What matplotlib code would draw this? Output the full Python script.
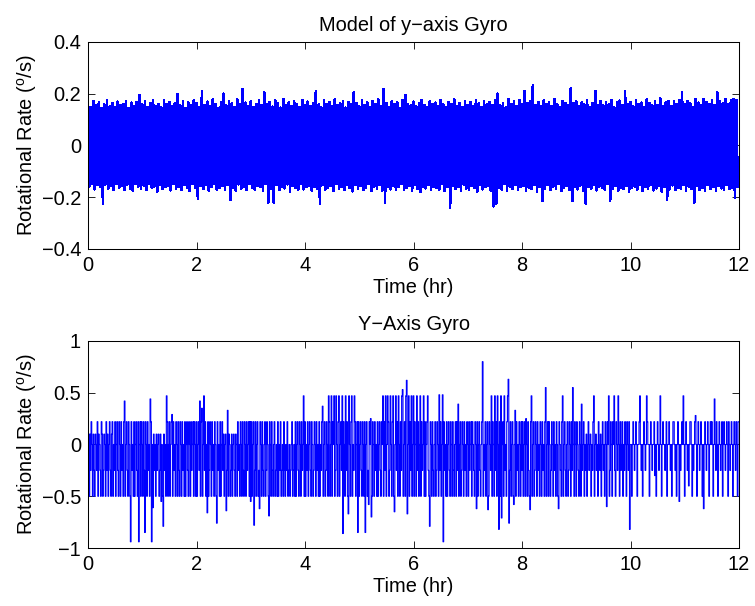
import numpy as np
import matplotlib
matplotlib.use("Agg")
import matplotlib.pyplot as plt
from matplotlib.ticker import FuncFormatter

plt.rcParams['font.family'] = ['Liberation Sans', 'DejaVu Sans']
plt.rcParams['mathtext.fontset'] = 'custom'
plt.rcParams['mathtext.rm'] = 'Liberation Sans'

# Model gyro: upper / lower noise peaks every 0.05 hr, in milli-deg/s
model_hi = [
    162, 148, 171, 155, 166, 143, 158, 174, 151, 163, 147, 169, 156, 160, 172, 145, 165, 153, 168, 195,
    158, 170, 149, 164, 176, 152, 161, 146, 173, 159, 167, 150, 162, 199, 155, 171, 144, 166, 157, 175,
    163, 148, 210, 156, 169, 151, 177, 160, 145, 168, 200, 154, 172, 162, 149, 179, 158, 218, 165, 152,
    170, 147, 161, 176, 155, 205, 159, 168, 150, 174, 163, 146, 180, 157, 166, 153, 171, 160, 148, 175,
    156, 169, 152, 164, 210, 158, 147, 173, 161, 167, 150, 177, 155, 163, 171, 146, 168, 159, 205, 162,
    151, 174, 157, 166, 148, 172, 160, 178, 153, 218, 164, 149, 170, 158, 167, 145, 175, 195, 161, 154,
    169, 150, 163, 176, 156, 147, 171, 160, 165, 152, 174, 158, 146, 168, 161, 177, 153, 164, 149, 172,
    157, 166, 150, 175, 162, 148, 170, 159, 167, 154, 173, 200, 155, 164, 147, 178, 160, 169, 152, 176,
    158, 210, 163, 171, 234, 156, 168, 150, 174, 161, 166, 153, 179, 159, 148, 172, 164, 157, 220, 162,
    170, 152, 166, 158, 175, 149, 163, 210, 157, 171, 154, 168, 160, 176, 147, 165, 173, 156, 210, 161,
    168, 151, 174, 159, 165, 148, 177, 162, 155, 170, 157, 181, 150, 166, 172, 153, 169, 160, 176, 205,
    158, 171, 163, 149, 178, 165, 154, 180, 167, 160, 175, 156, 205, 170, 162, 178, 158, 174, 180, 176,
]
model_lo = [
    -158, -147, -169, -152, -161, -226, -150, -166, -155, -172, -148, -163, -157, -170, -151, -165, -174, -149, -160, -167,
    -154, -171, -146, -163, -158, -177, -150, -168, -161, -155, -173, -147, -166, -159, -170, -152, -164, -175, -149, -162,
    -205, -157, -168, -151, -174, -160, -148, -171, -163, -156, -169, -153, -210, -162, -175, -150, -166, -158, -172, -147,
    -164, -170, -155, -161, -176, -149, -220, -167, -220, -153, -172, -159, -165, -150, -178, -157, -163, -171, -148, -169,
    -160, -154, -173, -158, -166, -226, -151, -170, -162, -156, -175, -148, -167, -159, -172, -153, -164, -177, -150, -168,
    -157, -171, -163, -149, -176, -160, -166, -152, -174, -220, -158, -169, -155, -172, -161, -148, -170, -164, -156, -173,
    -151, -167, -179, -159, -165, -153, -172, -158, -163, -170, -148, -176, -161, -240, -154, -168, -160, -174, -150, -166,
    -172, -157, -164, -178, -152, -169, -161, -155, -173, -235, -225, -163, -170, -149, -176, -158, -166, -153, -171, -160,
    -156, -174, -162, -168, -150, -177, -159, -215, -165, -153, -171, -160, -167, -148, -175, -163, -157, -170, -215, -161,
    -169, -154, -176, -225, -160, -167, -151, -173, -158, -164, -171, -149, -215, -166, -157, -174, -162, -168, -155, -177,
    -163, -158, -170, -152, -175, -161, -167, -150, -173, -165, -156, -178, -160, -210, -169, -154, -172, -162, -166, -151,
    -174, -159, -168, -220, -155, -171, -163, -176, -150, -167, -160, -173, -157, -165, -170, -153, -168, -162, -200, -158,
]

# Measured gyro output (quantised), 40 samples per half hour, in centi-deg/s
gyro_meas = [
    22, 10, -50, 10, -25, 22, 0, -50, 10, -25, -50, 10, 0, -25, 22, -50, 10, 0, -25, -50,
    22, 10, -50, -25, 10, 0, -50, 22, -25, 10, -50, 0, 22, -25, -50, 10, 22, -50, 0, -25,
    22, -50, 0, 22, -25, -50, 22, 0, -50, 22, -25, 0, -50, 22, 42, -50, 0, 22, -25, -50,
    22, 0, -50, -94, 22, -25, 0, -50, 22, -50, 0, 22, -25, -50, 22, -94, 0, 22, -50, 22,
    0, -50, 22, -25, -85, 22, 0, -50, 22, -25, 0, -50, 44, 22, -94, 0, -61, 10, -25, 0,
    -50, 10, -25, 0, 10, -50, -25, 10, -55, 0, -50, -79, 10, -25, 0, -50, 47, 22, -50, 0,
    22, -50, 0, 22, 29, -50, 22, -25, 0, -50, 22, 0, -50, 22, -25, -50, 22, 0, -50, 22,
    -25, 0, -50, 22, -50, 0, 22, -25, -50, 22, 0, -50, 22, -25, 0, 22, -50, 22, 0, -50,
    22, -50, 0, 22, -25, 42, -50, 22, 35, -50, 0, 47, -25, 22, -50, 0, -66, 22, -50, -25,
    22, 0, -50, 22, -25, 0, -50, 22, 0, -50, -76, 22, -25, 0, -50, 22, -50, 0, 22, -25,
    10, -50, 0, 10, -64, -25, 33, -50, 10, 0, -50, -25, 10, -50, 0, 10, -25, -50, 10, 0,
    -50, 22, -25, 0, -50, 22, 0, -50, 22, -25, -50, 22, 0, -50, 22, -25, 0, 22, -50, 22,
    -55, 22, -50, 0, 22, -78, -25, 22, -50, 0, 22, -50, -25, -62, 22, 0, -50, 22, -25, -50,
    0, 22, -50, -25, 22, 0, -50, -69, 22, 0, -50, 22, -25, -50, 0, 22, -50, -25, 0, -50,
    22, -50, 0, -25, 22, -50, -25, 0, -50, 22, -25, -50, 0, -25, 22, -50, -25, 0, -50, -25,
    0, 22, -50, -25, 0, -50, 22, -50, 0, 22, -25, -50, 22, 0, -50, 22, -25, 0, 47, -50,
    22, -50, 0, -25, 22, -50, 0, 22, -25, -50, 22, 0, -50, -25, 22, 0, -50, 22, -25, 0,
    -50, 22, -50, 0, -25, 22, 37, -50, 0, 22, -50, -25, 22, 0, -50, 47, 22, -50, 0, 47,
    -50, 22, 0, 47, -50, -25, 47, 0, -50, 22, 47, -50, 0, 22, -25, 47, -86, 22, 0, -50,
    47, -25, 22, -50, -67, 47, 0, -50, 22, 47, -50, 0, -25, 47, 22, -50, 0, 22, -85, 22,
    -50, 0, 22, -25, -50, 22, 0, -50, 22, -85, 0, 22, -50, -25, -58, 22, 0, 25, -70, -50,
    22, 0, -50, 22, -25, 0, -50, 22, -50, 0, 22, -25, -50, 22, 0, 47, -50, 22, -25, 47,
    -50, 0, 47, 22, -50, -25, 47, 0, -50, 22, 47, -50, -65, 0, 47, -25, 22, -50, 47, 0,
    -50, 22, -25, 47, 53, -50, 0, 22, -50, 47, 62, -67, 0, 47, -50, 22, -25, 47, -50, 0,
    47, -50, 22, 0, -50, 47, -25, 22, -50, 0, 47, -50, 22, -25, 0, 47, -50, 22, -50, 0,
    22, 47, -25, -50, -79, 22, 0, -50, 22, -25, -50, 0, 22, -50, -25, 22, 0, -50, 48, -25,
    22, -50, 0, 48, -94, 22, -25, 0, -50, 22, -50, 0, 22, -25, -50, 22, 0, -50, 22, -25,
    -50, 0, 22, -50, 22, -25, 39, -50, 0, 22, -50, -25, 22, 0, -50, 22, -25, 0, -50, 22,
    0, -50, 22, -25, 0, 22, -50, 22, 0, -25, -50, 22, 0, -62, 22, -50, 0, 22, -25, -50,
    0, 22, 80, -50, 0, -25, 22, -50, 0, 22, -63, -50, 22, 0, -25, 47, -50, 22, 0, -50,
    47, -25, 22, -50, 47, 0, -82, 22, -50, 47, -71, 0, 22, -50, 47, -25, 0, -50, 22, 47,
    63, -76, -25, 22, -50, 0, 22, -50, -58, 0, 33, -50, 22, -25, 0, -50, 22, 0, -50, 22,
    -25, 22, -50, 0, 22, -50, 25, 0, -50, 22, -25, -50, -63, 22, 47, -50, 0, 22, -50, -25,
    22, 0, -50, 22, -25, 0, -50, 22, 0, -50, 22, -25, 0, -50, 22, 55, -50, 0, 22, -50,
    22, 0, -50, -25, 22, 0, -50, 22, -25, 0, -50, 22, 0, -50, -62, 22, 0, -25, -50, 22,
    47, -50, 0, 22, -25, -50, 0, 22, -50, -25, 22, 0, -50, 22, -25, 55, 0, -50, 22, 0,
    -50, 22, 0, -25, -50, 22, 0, -50, 39, -25, 0, 22, -50, 0, -25, 10, -50, 0, 22, -25,
    0, 10, -50, 0, -25, 22, 47, -50, 0, 10, -25, 0, -50, 22, 0, -25, 10, -50, 0, 22,
    -25, 0, -50, 22, 0, -60, 22, 0, 47, -50, -25, 22, 0, -50, 22, 0, 47, -25, -50, 22,
    0, -25, 47, 0, -50, 22, -25, 0, 22, -50, 0, -25, 22, 0, -50, 22, 0, -25, 22, -82,
    0, 0, -50, 0, 22, 0, -25, 0, 22, 0, -50, 0, 0, 22, 47, 0, -25, 0, -50, 0,
    22, 0, -25, 0, 47, 22, 0, 0, -50, 0, 22, 0, -25, 0, 0, 22, -30, 0, -50, 0,
    22, 0, -25, 0, 47, 0, -50, 0, 22, 0, 0, -25, 0, 22, -50, 0, 0, 22, 0, -25,
    0, -50, 0, 22, 22, 0, -25, 0, -50, 0, 22, 0, -55, 0, -25, 0, 22, 0, 47, 0,
    -50, 0, 22, 0, -25, 0, -40, 0, 22, 22, 0, -50, 0, -25, 0, 22, 28, 0, -50, 0,
    22, 0, -25, 0, 22, 0, -50, 0, -62, 0, 22, 0, -25, 0, 22, 0, -50, 0, 22, 0,
    22, 0, -50, 0, 44, 0, -25, 22, 0, -50, 0, 22, 0, -25, 0, 22, -50, 0, 22, 0,
    -25, 0, 22, 0, -50, 22, 0, -25, 0, 22, 0, -50, 0, 22, 0, -25, 22, 0, -50, 22,
]

x_ticks = [0, 2, 4, 6, 8, 10, 12]
model_yticks = [-0.4, -0.2, 0, 0.2, 0.4]
meas_yticks = [-1, -0.5, 0, 0.5, 1]
t_end = 12.0  # hr

FS = 14.4
ylabel = r'Rotational Rate ($^\mathrm{o}$/s)'


def tick_fmt(v, pos):
    return ('%g' % v).replace('-', '\u2212')


def style_axes(ax, yticks):
    ax.set_xlim(0, t_end)
    ax.set_ylim(yticks[0], yticks[-1])
    ax.set_xticks(x_ticks)
    ax.set_yticks(yticks)
    ax.xaxis.set_major_formatter(FuncFormatter(tick_fmt))
    ax.yaxis.set_major_formatter(FuncFormatter(tick_fmt))
    ax.tick_params(direction='in', top=True, right=True, length=5, width=0.6,
                   labelsize=FS, pad=5)
    for s in ax.spines.values():
        s.set_linewidth(0.75)
    ax.set_xlabel('Time (hr)', fontsize=FS, labelpad=2)
    ax.set_ylabel(ylabel, fontsize=FS, labelpad=2)


fig = plt.figure(figsize=(7.55, 6.06), dpi=100)
ax1 = fig.add_axes([88 / 755, 1 - 249 / 606, 651 / 755, 207 / 606])
ax2 = fig.add_axes([88 / 755, 1 - 548 / 606, 651 / 755, 207 / 606])

# top: zigzag between the upper and lower peaks; no antialiasing so the band fills solid
step = t_end / len(model_hi)
t_model = np.arange(len(model_hi)) * step
x1 = np.column_stack([t_model, t_model + step / 2]).ravel()
y1 = np.column_stack([model_hi, model_lo]).ravel() / 1000.0
ax1.plot(x1, y1, color='#0000ff', linewidth=1.2, antialiased=False)
style_axes(ax1, model_yticks)
ax1.set_title('Model of y\u2212axis Gyro', fontsize=FS, pad=8)

# bottom: quantised sensor output
t_meas = np.arange(len(gyro_meas)) * (t_end / len(gyro_meas))
ax2.plot(t_meas, np.array(gyro_meas) / 100.0, color='#0000ff', linewidth=0.8,
         drawstyle='steps-mid')
style_axes(ax2, meas_yticks)
ax2.set_title('Y\u2212Axis Gyro', fontsize=FS, pad=8)

fig.savefig('out.png', dpi=100)
